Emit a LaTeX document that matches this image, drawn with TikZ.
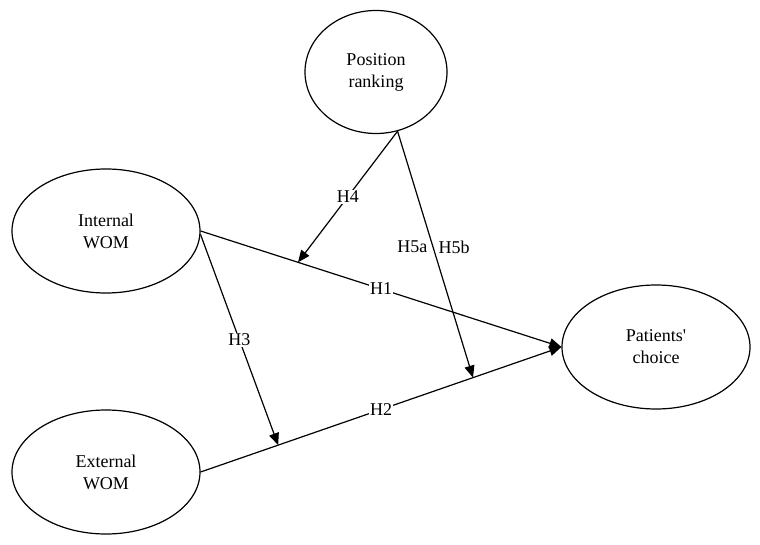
\documentclass[tikz,border=0pt]{standalone}
\usepackage{fontspec}
\setmainfont{Liberation Serif}[Ligatures=TeXOff]
\usetikzlibrary{shapes.geometric, arrows.meta}
\tikzstyle{construct} = [ellipse, draw, line width=1.2bp, inner sep=0pt, align=center, font=\fontsize{18bp}{22bp}\selectfont]
\tikzstyle{arrow} = [line width=1.2bp,-{Triangle[length=12bp,width=10bp]}]
\tikzstyle{hyp} = [fill=white, inner sep=1bp, font=\fontsize{18bp}{22bp}\selectfont]

\begin{document}
\begin{tikzpicture}[x=1bp,y=-1bp]
\useasboundingbox (0,0) rectangle (760,545);

%constructs
\node[construct, minimum width=142bp, minimum height=123bp] (rank) at (376,72) {Position\\ranking};
\node[construct, minimum width=188bp, minimum height=124bp] (iwom) at (106,231) {Internal\\WOM};
\node[construct, minimum width=188bp, minimum height=124bp] (ewom) at (106,472) {External\\WOM};
\node[construct, minimum width=188bp, minimum height=124bp] (choice) at (656,347) {Patients'\\choice};

%direct effects
\draw[arrow] (iwom.east) -- node[hyp] {H1} coordinate[pos=0.27] (onh1) (choice.west);
\draw[arrow] (ewom.east) -- node[hyp] {H2} coordinate[pos=0.215] (onh2a) coordinate[pos=0.755] (onh2b) (choice.west);

%moderating effects
\draw[arrow] (iwom.-2) -- node[hyp] {H3} (onh2a);
\draw[arrow] (rank.-70) -- node[hyp] {H4} (onh1);
\draw[arrow] (rank.-70) -- node[pos=0.47, left, inner sep=5bp, font=\fontsize{18bp}{22bp}\selectfont] {H5a}
  node[pos=0.47, right, inner sep=5bp, font=\fontsize{18bp}{22bp}\selectfont] {H5b} (onh2b);

\end{tikzpicture}
\end{document}
